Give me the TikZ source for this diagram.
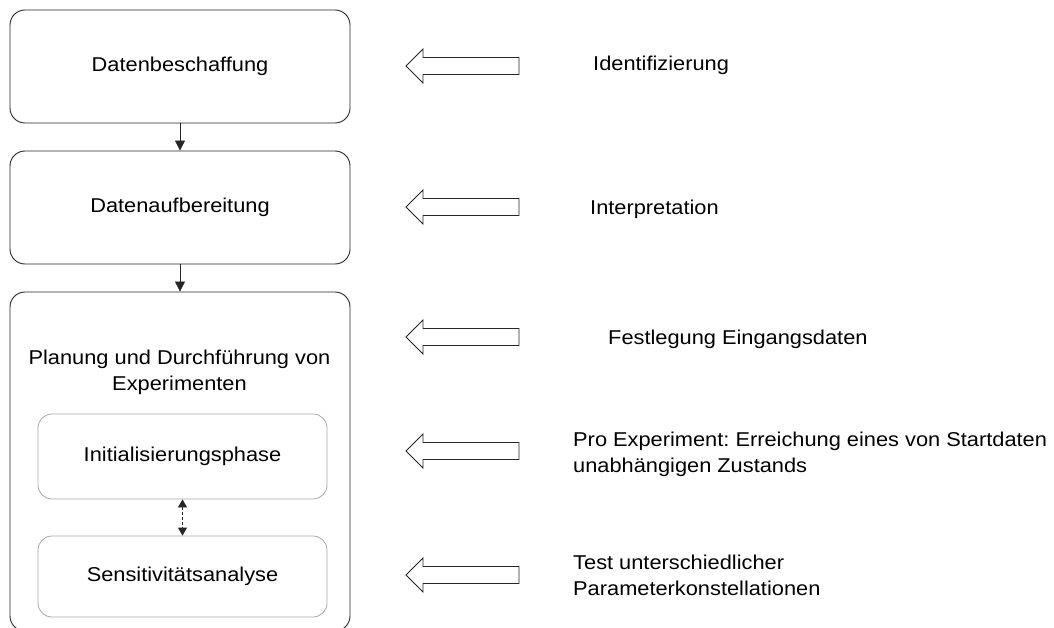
\documentclass[tikz,border=0pt]{standalone}
\usepackage{fontspec}
\setmainfont{Liberation Sans}[FakeStretch=1.09]
\usetikzlibrary{arrows.meta}
\frenchspacing
\begin{document}
\begin{tikzpicture}[x=1pt,y=-1pt,
  txt/.style={font=\fontsize{20}{26}\selectfont, inner sep=0pt},
  mainbox/.style={draw=black!85, line width=0.9pt, rounded corners=15pt, minimum width=340pt, inner sep=0pt},
  subbox/.style={draw=black!35, line width=0.8pt, rounded corners=14pt, minimum width=289pt, txt},
  conn/.style={draw=black!85, line width=0.8pt, -{Triangle[length=10pt,width=10pt]}},
  dconn/.style={draw=black!85, line width=0.8pt, dash pattern=on 3pt off 2pt,
    {Triangle[length=8pt,width=9pt]}-{Triangle[length=8pt,width=9pt]}},
  blockarrow/.pic={\draw[draw=black!85, line width=0.8pt, line join=miter, fill=white]
    (0,0) -- (17,-17) -- (17,-8.5) -- (113,-8.5) -- (113,8.5) -- (17,8.5) -- (17,17) -- cycle;}
]
\useasboundingbox (0,0) rectangle (1054,628);
\clip (0,0) rectangle (1054,628);

% left column
\node[mainbox, minimum height=113pt, txt] (b1) at (180,66.5) {Datenbeschaffung};
\node[mainbox, minimum height=113pt, txt] (b2) at (180,207.5) {Datenaufbereitung};
\node[mainbox, minimum height=339pt] (b3) at (180,461.5) {};
\node[txt, anchor=north, align=center] (t3) at (179.5,349.5) {Planung und Durchführung von\\Experimenten};
\node[subbox, minimum height=85pt] (s1) at (182.5,456.5) {Initialisierungsphase};
\node[subbox, minimum height=81pt] (s2) at (182.5,576.5) {Sensitivitätsanalyse};

\draw[conn] (b1) -- (b2);
\draw[conn] (b2) -- (b3);
\draw[dconn] (s1) -- (s2);

% block arrows
\pic at (406,66) {blockarrow};
\pic at (406,207) {blockarrow};
\pic at (406,337) {blockarrow};
\pic at (406,451) {blockarrow};
\pic at (406,575) {blockarrow};

% right texts
\node[txt, anchor=base west] (r1) at (593,70.7) {Identifizierung};
\node[txt, anchor=base west] (r2) at (590,214.3) {Interpretation};
\node[txt, anchor=base west] (r3) at (608,344.3) {Festlegung Eingangsdaten};
\node[txt, anchor=west, align=left] (r4) at (573,453.9) {Pro Experiment: Erreichung eines von Startdaten\\unabhängigen Zustands};
\node[txt, anchor=west, align=left] (r5) at (573,574.9) {Test unterschiedlicher\\Parameterkonstellationen};
\end{tikzpicture}
\end{document}
